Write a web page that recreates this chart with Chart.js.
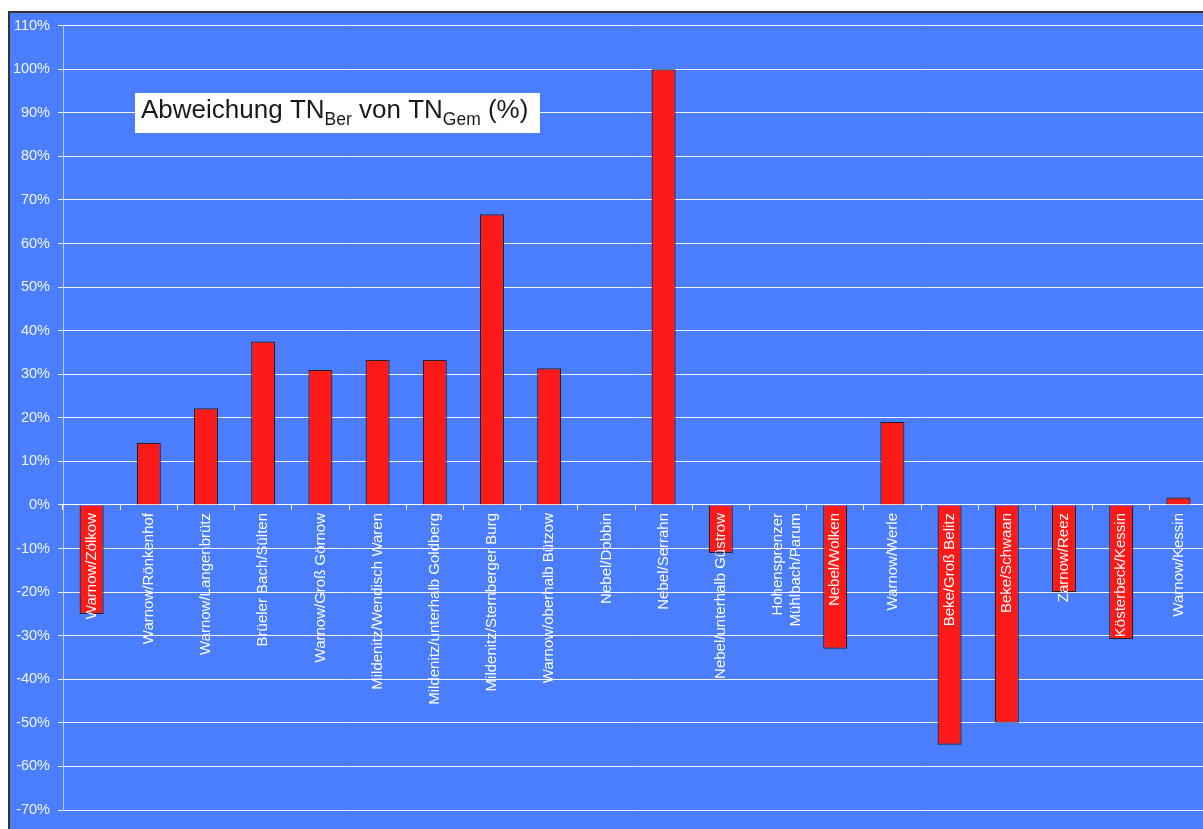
<!DOCTYPE html>
<html>
<head>
<meta charset="utf-8">
<script src="https://cdn.jsdelivr.net/npm/chart.js@4"></script>
<style>
  html, body { margin: 0; padding: 0; background: #fff; overflow: hidden; }
  #panel {
    position: absolute; left: 8px; top: 11px;
    width: 1210px; height: 820px;
    background: #4a7eff;
    border-left: 2px solid #333;
    border-top: 2px solid #333;
    overflow: hidden;
  }
  canvas { display: block; margin-top: -4px; }
</style>
</head>
<body>
<div id="panel"><canvas id="chart" width="1210" height="824"></canvas></div>
<script>
const stations = [
    "Warnow/Zölkow", "Warnow/Rönkenhof", "Warnow/Langenbrütz", "Brüeler Bach/Sülten",
    "Warnow/Groß Görnow", "Mildenitz/Wendisch Waren", "Mildenitz/unterhalb Goldberg",
    "Mildenitz/Sternberger Burg", "Warnow/oberhalb Bützow", "Nebel/Dobbin", "Nebel/Serrahn",
    "Nebel/unterhalb Güstrow", ["Hohensprenzer", "Mühlbach/Parum"], "Nebel/Wolken",
    "Warnow/Werle", "Beke/Groß Belitz", "Beke/Schwaan", "Zarnow/Reez",
    "Kösterbeck/Kessin", "Warnow/Kessin"
];
const deviation = [-25, 14.3, 22.2, 37.5, 31.0, 33.3, 33.3, 66.7, 31.4, 0, 100,
    -11, 0, -33, 19.1, -55, -50, -20, -30.8, 1.7];
const yMin = -70;
const yMax = 110;
const yStep = 10;

// title box with subscripts (TN_Ber, TN_Gem)
const titleBox = {
    id: "titleBox",
    afterDraw(chart) {
        const ctx = chart.ctx;
        ctx.save();
        ctx.fillStyle = "#ffffff";
        ctx.fillRect(125, 84, 405, 40);
        const parts = [
            ["Abweichung TN", false], ["Ber", true], [" von TN", false], ["Gem", true], [" (%)", false]
        ];
        let x = 131;
        ctx.fillStyle = "#1a1a1a";
        ctx.textBaseline = "alphabetic";
        parts.forEach(([txt, sub]) => {
            ctx.font = (sub ? "17.5px" : "26px") + " 'Liberation Sans', Arial, sans-serif";
            ctx.fillText(txt, x, sub ? 115.5 : 108.5);
            x += ctx.measureText(txt).width;
        });
        ctx.restore();
    }
};

new Chart(document.getElementById("chart"), {
    type: "bar",
    data: {
        labels: stations,
        datasets: [{
            data: deviation,
            backgroundColor: "#ff1a1a",
            borderColor: "#222222",
            borderWidth: 1.2,
            barPercentage: 0.42,
            categoryPercentage: 1
        }]
    },
    options: {
        responsive: false,
        animation: false,
        layout: { padding: { top: 8, right: 13, bottom: 23, left: 0 } },
        plugins: { legend: { display: false }, tooltip: { enabled: false } },
        scales: {
            x: {
                position: { y: 0 },
                grid: {
                    drawOnChartArea: false,
                    drawTicks: true,
                    tickLength: 5,
                    color: "#ffffff"
                },
                border: { display: true, color: "#ffffff", width: 1 },
                ticks: {
                    z: 1,
                    autoSkip: false,
                    minRotation: 90,
                    maxRotation: 90,
                    padding: 3,
                    color: "#ffffff",
                    font: { family: "'Liberation Sans', Arial, sans-serif", size: 15 }
                }
            },
            y: {
                min: yMin,
                max: yMax,
                afterFit(scale) { scale.width = 53; },
                grid: { color: "rgba(255,255,255,0.9)", tickLength: 5, lineWidth: 1 },
                border: { color: "rgba(255,255,255,0.6)" },
                ticks: {
                    stepSize: yStep,
                    padding: 8,
                    color: "#f2f5ff",
                    font: { family: "'Liberation Sans', Arial, sans-serif", size: 14.5 },
                    callback: v => v + "%"
                }
            }
        }
    },
    plugins: [titleBox]
});
</script>
</body>
</html>
